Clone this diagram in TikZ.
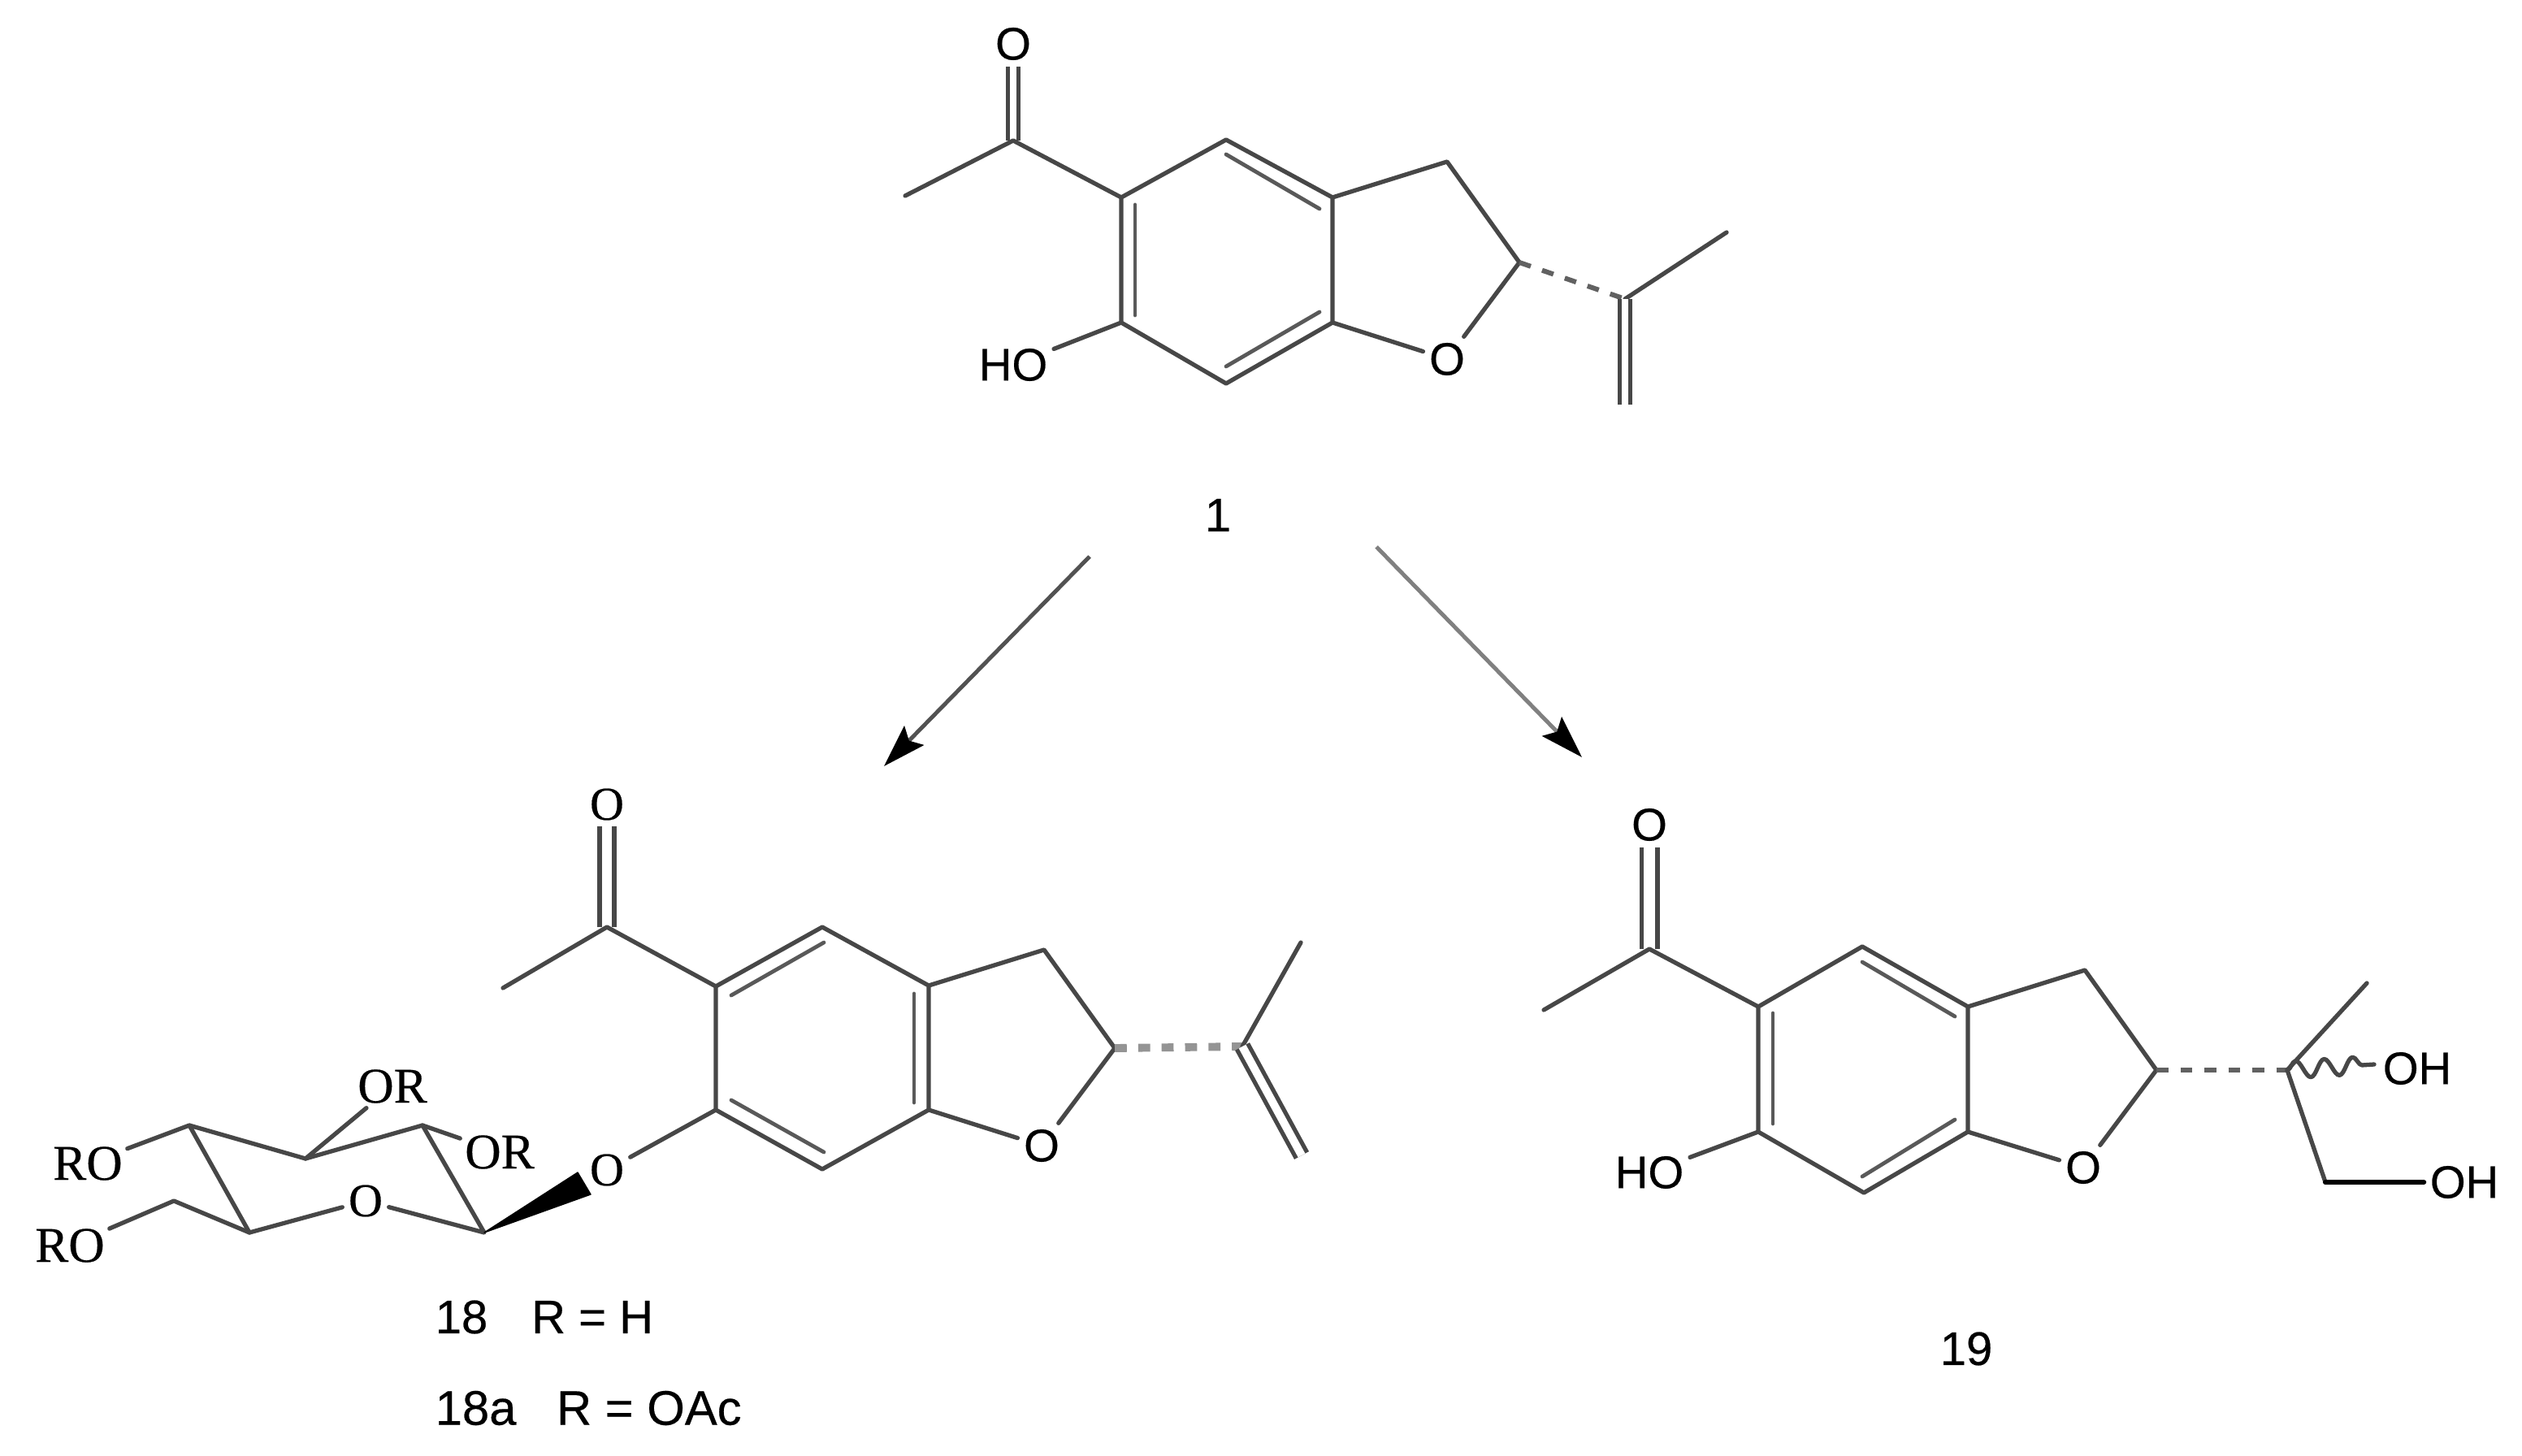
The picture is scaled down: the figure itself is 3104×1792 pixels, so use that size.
\documentclass[tikz,border=0pt]{standalone}
\usepackage{fontspec}
\setmainfont{Liberation Sans}
\newfontfamily\sansatom[FakeBold=0.4]{Liberation Sans}
\newfontfamily\serifatom[FakeBold=0.4]{Liberation Serif}
\usetikzlibrary{arrows.meta,decorations.pathmorphing}
\tikzset{
  bond/.style={line width=1.5pt,draw=black!72,line cap=round,line join=round},
  innerbond/.style={bond,line width=1.35pt,draw=black!65},
  dbl/.style={bond,line cap=butt,double=white,double distance=#1},
  hashbond/.style={line width=1.7pt,draw=black!62,dash pattern=on 4.2pt off 4.2pt},
  hashwide/.style={line width=2.8pt,draw=black!42,dash pattern=on 4.2pt off 4pt},
  wedgebond/.style={fill=black,draw=black,line width=.4pt,line join=round},
  wavybond/.style={bond,decorate,decoration={snake,segment length=10pt,amplitude=3pt}},
  rxn/.style={line width=1.4pt,draw=black!68,-{Stealth[length=15pt,width=9.5pt,inset=2.5pt,color=black,fill=black]}},
  atom/.style={inner sep=2pt,text=black,font=\fontsize{16}{18}\selectfont\sansatom},
  satom/.style={inner sep=1.5pt,text=black,font=\fontsize{17.5}{20}\selectfont\serifatom},
  oatom/.style={inner sep=2pt,text=black,font=\fontsize{16.5}{20}\selectfont\serifatom},
  lab/.style={inner sep=0pt,text=black,font=\fontsize{16.5}{18}\selectfont\sansatom},
  labwide/.style={inner sep=0pt,text=black,font=\fontsize{17}{18}\selectfont\sansatom},
}
\begin{document}
\begin{tikzpicture}[x=0.01cm,y=-0.01cm]
\fill[white] (0,0) rectangle (3104,1792);
\useasboundingbox (0,0) rectangle (3104,1792);

% ---- compound 1
\coordinate (aCO) at (1247,173); \coordinate (aMe) at (1114,241);
\coordinate (aC5) at (1380,243); \coordinate (aC4) at (1509,172);
\coordinate (aC3a) at (1640,243); \coordinate (aC7a) at (1640,397);
\coordinate (aC7) at (1509,472); \coordinate (aC6) at (1380,397);
\coordinate (aC3) at (1781,199); \coordinate (aC2) at (1870,323);
\coordinate (aCi) at (2000,368); \coordinate (aMe2) at (2125,286);
\coordinate (aCH2) at (2000,498);
\coordinate (aI1s) at (1397,252); \coordinate (aI1e) at (1397,388);
\coordinate (aI2s) at (1509,190); \coordinate (aI2e) at (1624,257);
\coordinate (aI3s) at (1509,451); \coordinate (aI3e) at (1624,384);
\node[atom] (aOk) at (1247,54) {O};
\node[atom] (aHO) at (1247,449) {HO};
\node[atom] (aO1) at (1781,442) {O};
\node[lab] (lab1) at (1499,634) {1};
\draw[dbl=2.2pt] (aCO) -- (aOk);
\draw[bond] (aMe) -- (aCO) -- (aC5) -- (aC4) -- (aC3a) -- (aC7a) -- (aC7) -- (aC6) -- (aC5);
\draw[bond] (aC3a) -- (aC3) -- (aC2) -- (aO1) -- (aC7a);
\draw[bond] (aC6) -- (aHO);
\draw[innerbond] (aI1s) -- (aI1e);
\draw[innerbond] (aI2s) -- (aI2e);
\draw[innerbond] (aI3s) -- (aI3e);
\draw[hashbond] (aC2) -- (aCi);
\draw[bond] (aCi) -- (aMe2);
\draw[dbl=2.2pt] (aCi) -- (aCH2);

% ---- arrows
\coordinate (arLs) at (1341,685); \coordinate (arLe) at (1088,943);
\coordinate (arRs) at (1694,673); \coordinate (arRe) at (1947,932);
\draw[rxn] (arLs) -- (arLe);
\draw[rxn,draw=black!50] (arRs) -- (arRe);

% ---- compound 18
\coordinate (bCO) at (747,1141); \coordinate (bMe) at (619,1216);
\coordinate (bC5) at (881,1214); \coordinate (bC4) at (1012,1141);
\coordinate (bC3a) at (1143,1213); \coordinate (bC7a) at (1143,1366);
\coordinate (bC7) at (1012,1439); \coordinate (bC6) at (881,1366);
\coordinate (bC3) at (1285,1169); \coordinate (bC2) at (1372,1290);
\coordinate (bCi) at (1529,1288); \coordinate (bMe2) at (1601,1160);
\coordinate (bCH2) at (1602,1422);
\coordinate (bI1s) at (1014,1160); \coordinate (bI1e) at (900,1225);
\coordinate (bI2s) at (900,1354); \coordinate (bI2e) at (1014,1418);
\coordinate (bI3s) at (1125,1223); \coordinate (bI3e) at (1125,1357);
\node[oatom] (bOk) at (747,990) {O};
\node[oatom] (bOe) at (747,1440) {O};
\node[atom] (bO1) at (1282,1410) {O};
\draw[dbl=3.6pt] (bCO) -- (bOk);
\draw[bond] (bMe) -- (bCO) -- (bC5) -- (bC4) -- (bC3a) -- (bC7a) -- (bC7) -- (bC6) -- (bC5);
\draw[bond] (bC3a) -- (bC3) -- (bC2) -- (bO1) -- (bC7a);
\draw[bond] (bC6) -- (bOe);
\draw[innerbond] (bI1s) -- (bI1e);
\draw[innerbond] (bI2s) -- (bI2e);
\draw[innerbond] (bI3s) -- (bI3e);
\draw[hashwide] (bC2) -- (bCi);
\draw[bond] (bCi) -- (bMe2);
\draw[dbl=2.8pt] (bCi) -- (bCH2);
% sugar
\coordinate (sC1) at (596,1517); \coordinate (sC2) at (520,1385);
\coordinate (sC3) at (376,1426); \coordinate (sC4) at (233,1385);
\coordinate (sC5) at (307,1517); \coordinate (sC6) at (214,1478);
\coordinate (wA) at (711,1443); \coordinate (wB) at (727,1470);
\node[oatom] (sO) at (450,1478) {O};
\node[satom] (sOR3) at (483,1337) {OR};
\node[satom] (sOR2) at (615,1418) {OR};
\node[satom] (sRO4) at (108,1432) {RO};
\node[satom] (sRO6) at (86,1533) {RO};
\draw[bond] (sC5) -- (sO) -- (sC1) -- (sC2) -- (sC3) -- (sC4) -- (sC5);
\draw[bond] (sC3) -- (sOR3);
\draw[bond] (sC2) -- (sOR2);
\draw[bond] (sC4) -- (sRO4);
\draw[bond] (sC5) -- (sC6) -- (sRO6);
\draw[wedgebond] (sC1) -- (wA) -- (wB) -- cycle;
\node[lab,anchor=west] (lab18) at (535,1621) {18\hspace{.93em}R = H};
\node[labwide,anchor=west] (lab18a) at (535,1733) {18a\hspace{.83em}R = OAc};

% ---- compound 19
\coordinate (cCO) at (2030,1168); \coordinate (cMe) at (1900,1243);
\coordinate (cC5) at (2164,1239); \coordinate (cC4) at (2292,1165);
\coordinate (cC3a) at (2422,1239); \coordinate (cC7a) at (2422,1393);
\coordinate (cC7) at (2294,1468); \coordinate (cC6) at (2164,1393);
\coordinate (cC3) at (2566,1194); \coordinate (cC2) at (2654,1317);
\coordinate (cCt) at (2815,1317); \coordinate (cMe2) at (2913,1210);
\coordinate (cCH) at (2862,1455); \coordinate (cWv) at (2922,1310);
\coordinate (cI1s) at (2182,1247); \coordinate (cI1e) at (2182,1383);
\coordinate (cI2s) at (2292,1184); \coordinate (cI2e) at (2406,1251);
\coordinate (cI3s) at (2292,1448); \coordinate (cI3e) at (2406,1378);
\node[atom] (cOk) at (2030,1015) {O};
\node[atom] (cHO) at (2030,1443) {HO};
\node[atom] (cO1) at (2564,1437) {O};
\node[atom] (cOHa) at (2975,1315) {OH};
\node[atom] (cOHb) at (3033,1455) {OH};
\node[lab] (lab19) at (2420,1660) {19};
\draw[dbl=4.1pt] (cCO) -- (cOk);
\draw[bond] (cMe) -- (cCO) -- (cC5) -- (cC4) -- (cC3a) -- (cC7a) -- (cC7) -- (cC6) -- (cC5);
\draw[bond] (cC3a) -- (cC3) -- (cC2) -- (cO1) -- (cC7a);
\draw[bond] (cC6) -- (cHO);
\draw[innerbond] (cI1s) -- (cI1e);
\draw[innerbond] (cI2s) -- (cI2e);
\draw[innerbond] (cI3s) -- (cI3e);
\draw[hashbond] (cC2) -- (cCt);
\draw[bond] (cCt) -- (cMe2);
\draw[wavybond] (cCt) -- (cWv);
\draw[bond] (cCt) -- (cCH);
\draw[bond,draw=black,line width=1.8pt] (cCH) -- (cOHb);
\end{tikzpicture}
\end{document}
